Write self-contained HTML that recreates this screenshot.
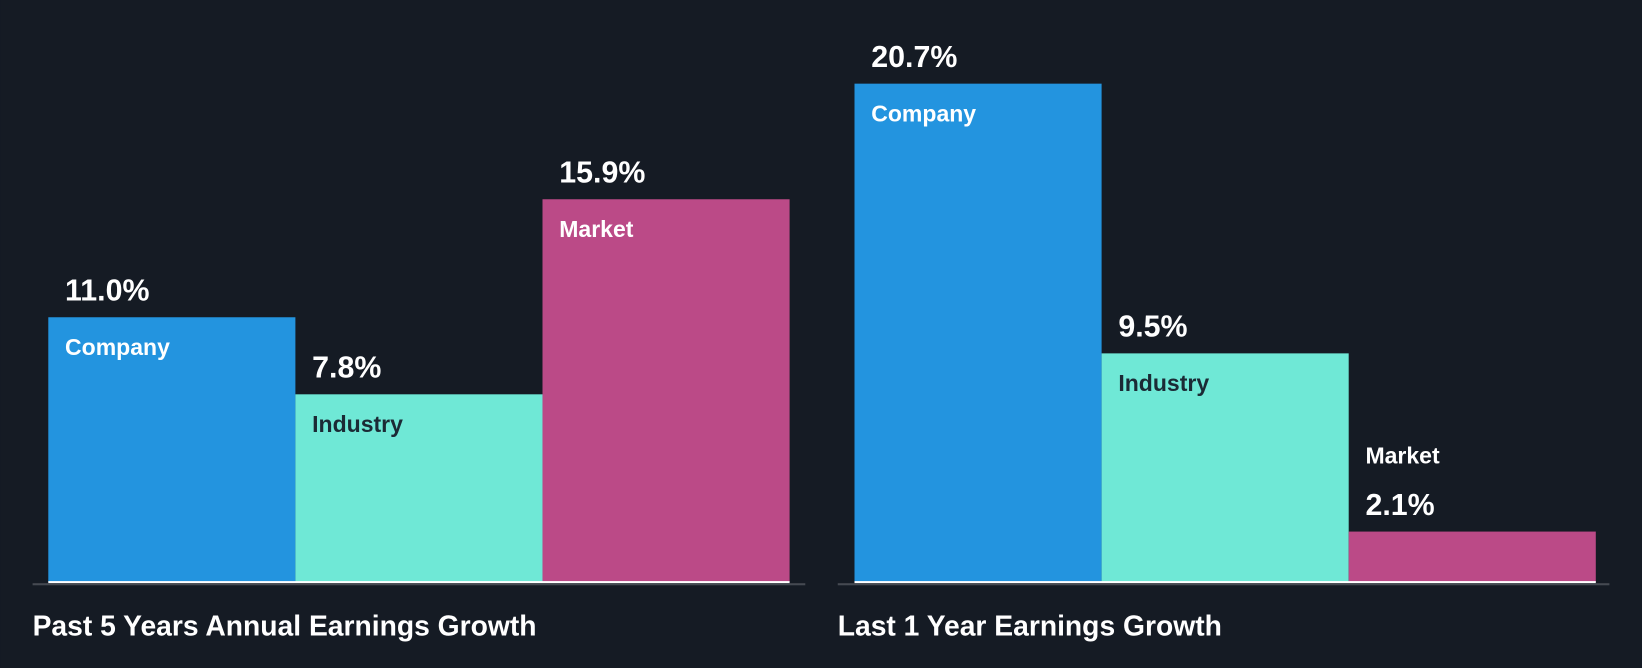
<!DOCTYPE html>
<html><head><meta charset="utf-8"><style>
html,body{margin:0;padding:0;background:#151b24;}
svg{display:block;font-family:"Liberation Sans",sans-serif;font-weight:bold;}
</style></head><body>
<svg id="chart" width="1642" height="668" viewBox="0 0 1568 638" xmlns="http://www.w3.org/2000/svg">
<rect x="0" y="0" width="1568" height="638" fill="#151b24"/>
<g id="panels"></g>
</svg>
<script>
const categories = ["Company", "Industry", "Market"];
const past5Values = [11.0, 7.8, 15.9];
const last1Values = [20.7, 9.5, 2.1];
const panelTitles = ["Past 5 Years Annual Earnings Growth", "Last 1 Year Earnings Growth"];

const NS = "http://www.w3.org/2000/svg";
const colors = ["#2394df", "#6fe8d6", "#bb4a87"];
const labelColors = ["#ffffff", "#1b2a35", "#ffffff"];
const baseY = 556, pxPerUnit = 23, barW = 236;
const panels = [{x0: 46, ax0: 31, ax1: 769, values: past5Values, key: "past-5-years"},
                {x0: 816, ax0: 800, ax1: 1537, values: last1Values, key: "last-1-year"}];
function yScale(v){ return baseY - v * pxPerUnit; }
function mk(tag, attrs, parent){
  const el = document.createElementNS(NS, tag);
  for (const k in attrs) el.setAttribute(k, attrs[k]);
  parent.appendChild(el); return el;
}
const root = document.getElementById("panels");
panels.forEach((p, pi) => {
  const g = mk("g", {}, root);
  
  
  p.values.forEach((v, i) => {
    const x = p.x0 + i * barW, top = yScale(v);
    const r = mk("rect", {x: x, y: top, width: barW, height: baseY - top, fill: colors[i]}, g);
    
    
    const small = (baseY - top) < 80;
    const valY = small ? top - 16 : top - 16;
    const catY = small ? top - 65 : top + 36;
    const cat = mk("text", {x: x + 16, y: catY, fill: small ? "#ffffff" : labelColors[i], "font-size": 22}, g);
    cat.textContent = categories[i];
    
    
    const val = mk("text", {x: x + 16, y: valY, fill: "#ffffff", "font-size": 29}, g);
    val.textContent = v.toFixed(1) + "%";
    
    
  });
  const wl = mk("rect", {x: p.x0, y: baseY - 1, width: barW * 3, height: 2, fill: "#ffffff"}, g);
  
  
  const ax = mk("rect", {x: p.ax0, y: baseY + 1, width: p.ax1 - p.ax0, height: 2, fill: "#454a52"}, g);
  
  
  const t = mk("text", {x: p.ax0, y: 607, fill: "#ffffff", "font-size": 27}, g);
  t.textContent = panelTitles[pi];
  
  
});
</script>
</body></html>
